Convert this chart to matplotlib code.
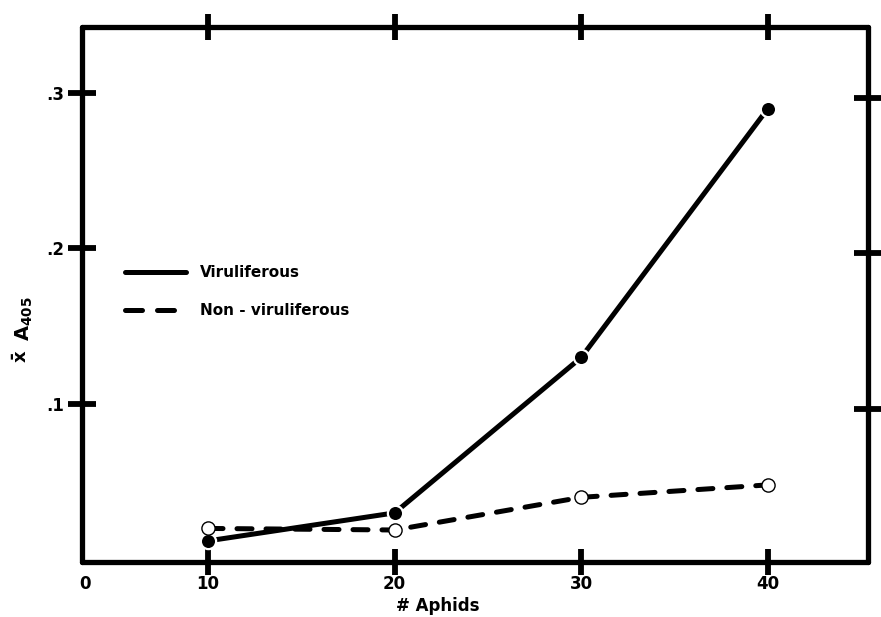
import numpy as np
import matplotlib
matplotlib.use("Agg")
import matplotlib.pyplot as plt
from matplotlib.lines import Line2D

plt.rcParams['font.family'] = ['DejaVu Sans']
plt.rcParams['font.weight'] = 'bold'

# data
aphids = [10, 20, 30, 40]
viruliferous = [0.012, 0.030, 0.130, 0.290]
non_viruliferous = [0.020, 0.019, 0.040, 0.048]
y_ticks = [0.1, 0.2, 0.3]
y_tick_labels = ['.1', '.2', '.3']
right_ticks = [0.097, 0.197, 0.297]

fig = plt.figure(figsize=(8.81, 6.17), dpi=100)
ax = fig.add_axes([0.0931, 0.0891, 0.8921, 0.8671])

lw = 3.6
dash = (3.0, 2.8)
ax.plot(aphids, viruliferous, color='black', lw=lw, solid_capstyle='round', zorder=2)
ax.plot(aphids, viruliferous, ls='none', marker='o', ms=11, mfc='black',
        mec='white', mew=1.6, zorder=3)
ax.plot(aphids, non_viruliferous, color='black', lw=lw, dashes=dash,
        dash_capstyle='round', zorder=2)
ax.plot(aphids, non_viruliferous, ls='none', marker='o', ms=9.5,
        mfc='white', mec='black', mew=1.0, zorder=4)

ax.set_xlim(3.25, 45.36)
ax.set_ylim(-0.0016, 0.3424)

for s in ax.spines.values():
    s.set_linewidth(3.8)
    s.set_capstyle('round')

ax.set_xticks(aphids)
ax.set_xticklabels([str(a) for a in aphids], fontsize=12, fontweight='bold')
ax.set_yticks(y_ticks)
ax.set_yticklabels(y_tick_labels, fontsize=12, fontweight='bold')
ax.tick_params(axis='x', which='major', direction='inout', length=19, width=4.2,
               top=True, bottom=True, pad=0)
ax.tick_params(axis='y', which='major', direction='inout', length=20, width=4.2,
               left=True, right=False, pad=3)

ax2 = ax.twinx()
ax2.set_ylim(ax.get_ylim())
ax2.set_yticks(right_ticks)
ax2.set_yticklabels([])
ax2.tick_params(axis='y', direction='inout', length=20, width=4.2)
for s in ax2.spines.values():
    s.set_visible(False)

# corner zero label
ax.annotate('0', xy=(0, 0), xycoords='axes fraction', xytext=(2, -9.5),
            textcoords='offset points', ha='center', va='top', fontsize=12,
            fontweight='bold')

ax.set_xlabel('# Aphids', fontsize=12, fontweight='bold')
ax.xaxis.set_label_coords(0.452, -0.066)

fig.text(0.024, 0.423, 'x\u0304', rotation=90, fontsize=13, fontweight='bold',
         ha='center', va='center')
fig.text(0.028, 0.483, 'A$_{405}$', rotation=90, fontsize=14, fontweight='bold',
         ha='center', va='center')

handles = [Line2D([], [], color='black', lw=lw, solid_capstyle='round'),
           Line2D([], [], color='black', lw=lw, dashes=(3.4, 3.0), dash_capstyle='round')]
ax.legend(handles, ['Viruliferous', 'Non - viruliferous'], loc='center left',
          bbox_to_anchor=(0.055, 0.505), frameon=False, handlelength=4.0,
          handletextpad=0.9, labelspacing=1.5, borderpad=0, borderaxespad=0,
          prop={'weight': 'bold', 'size': 11})

fig.savefig('out.png', dpi=100)
